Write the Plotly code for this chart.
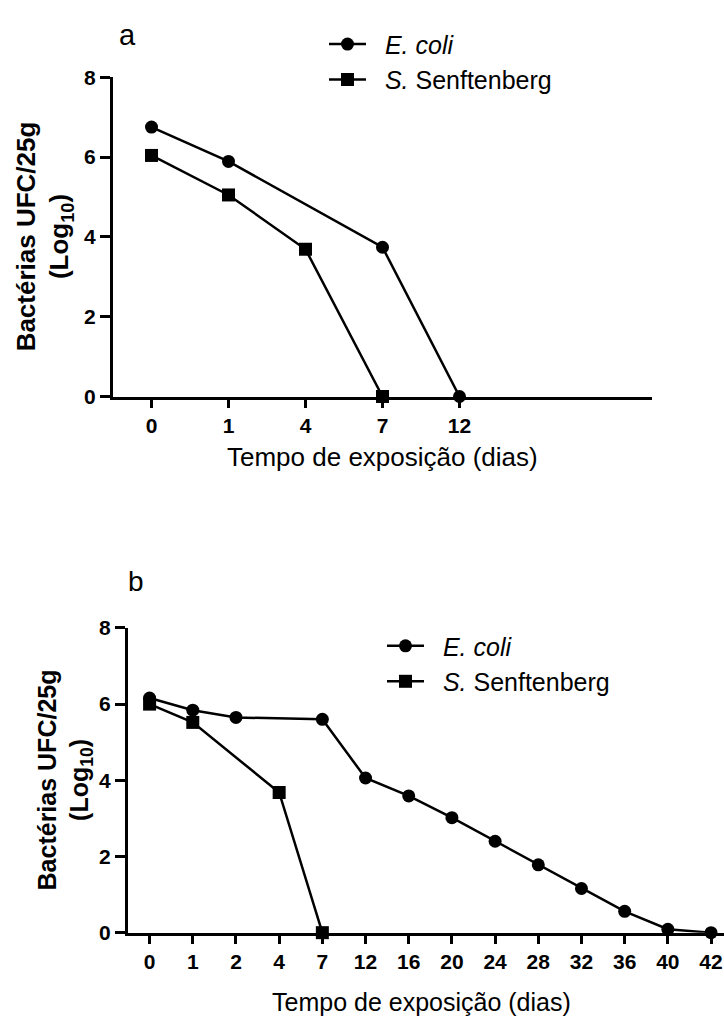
import plotly.graph_objects as go

W, H = 724, 1030
FONT = "Liberation Sans, Arial, sans-serif"

# ---------------- data: panel a ----------------
a_days = ["0", "1", "4", "7", "12"]
a_ecoli_days = ["0", "1", "7", "12"]
a_ecoli_log = [6.75, 5.89, 3.74, 0.0]
a_salm_days = ["0", "1", "4", "7"]
a_salm_log = [6.04, 5.05, 3.69, 0.0]

# ---------------- data: panel b ----------------
b_days = ["0", "1", "2", "4", "7", "12", "16", "20", "24", "28", "32", "36", "40", "42"]
b_ecoli_days = ["0", "1", "2", "7", "12", "16", "20", "24", "28", "32", "36", "40", "42"]
b_ecoli_log = [6.16, 5.84, 5.65, 5.60, 4.06, 3.59, 3.02, 2.40, 1.78, 1.16, 0.56, 0.09, 0.0]
b_salm_days = ["0", "1", "4", "7"]
b_salm_log = [6.00, 5.52, 3.68, 0.0]

y_ticks = [0, 2, 4, 6, 8]
NB = "\u00a0\u00a0"
series_names = [NB + "<i>E. coli</i>", NB + "<i>S.</i> Senftenberg"]
symbols = ["circle", "square"]


def px_x(v):
    return v / W


def px_y(v):
    return 1 - v / H


fig = go.Figure()

panels = [
    ("x", "y", "legend", [(a_ecoli_days, a_ecoli_log), (a_salm_days, a_salm_log)]),
    ("x2", "y2", "legend2", [(b_ecoli_days, b_ecoli_log), (b_salm_days, b_salm_log)]),
]
for xa, ya, leg, series in panels:
    for (xs, ys), name, sym in zip(series, series_names, symbols):
        fig.add_trace(go.Scatter(
            x=xs, y=ys, name=name, mode="lines+markers",
            xaxis=xa, yaxis=ya, legend=leg, cliponaxis=False,
            line=dict(color="black", width=2.5),
            marker=dict(symbol=sym, size=13, color="black"),
            hoverinfo="skip",
        ))

tickfont = dict(family=FONT, size=21, color="black", weight="bold")
common_x = dict(type="category", categoryorder="array", showline=True, linecolor="black",
                linewidth=3, ticks="outside", ticklen=8, tickwidth=2.5, tickcolor="black",
                tickfont=tickfont, showgrid=False, zeroline=False, fixedrange=True)
common_y = dict(range=[0, 8], tickvals=y_ticks, showline=True, linecolor="black",
                linewidth=3, ticks="outside", ticklen=10, tickwidth=2.5, tickcolor="black",
                tickfont=tickfont, showgrid=False, zeroline=False, fixedrange=True)

legend_font = dict(family=FONT, size=25, color="black")
fig.update_layout(
    width=W, height=H,
    margin=dict(l=0, r=0, t=0, b=0),
    paper_bgcolor="white", plot_bgcolor="white",
    xaxis=dict(common_x, domain=[px_x(113), px_x(652)], anchor="y",
               categoryarray=a_days, range=[-0.5, 6.5]),
    yaxis=dict(common_y, domain=[px_y(393.3), px_y(66.7)], anchor="x"),
    xaxis2=dict(common_x, domain=[px_x(128), 1.0], anchor="y2",
                categoryarray=b_days, range=[-0.5, 13.3]),
    yaxis2=dict(common_y, domain=[px_y(941.7), px_y(630)], anchor="x2"),
    legend=dict(x=px_x(324), y=px_y(9.5), xanchor="left", yanchor="top",
                font=legend_font, bgcolor="rgba(0,0,0,0)", itemwidth=37, tracegroupgap=0),
    legend2=dict(x=px_x(382), y=px_y(625), xanchor="left", yanchor="top",
                 font=legend_font, bgcolor="rgba(0,0,0,0)", itemwidth=37, tracegroupgap=0),
    showlegend=True,
)

ytitle = "<b>Bactérias UFC/25g<br>(Log<sub>10</sub>)</b>"
xtitle = "Tempo de exposição (dias)"
annotations = [
    dict(text="a", x=px_x(127), y=px_y(24), font=dict(family=FONT, size=29, color="black")),
    dict(text="b", x=px_x(135.5), y=px_y(583), font=dict(family=FONT, size=28, color="black")),
    dict(text=ytitle, x=px_x(44.5), y=px_y(230), textangle=-90,
         font=dict(family=FONT, size=26, color="black")),
    dict(text=ytitle, x=px_x(65), y=px_y(786), textangle=-90,
         font=dict(family=FONT, size=25, color="black")),
    dict(text=xtitle, x=px_x(382), y=px_y(455), font=dict(family=FONT, size=26, color="black")),
    dict(text=xtitle, x=px_x(421), y=px_y(1013), font=dict(family=FONT, size=25, color="black")),
]
for a in annotations:
    a.update(xref="paper", yref="paper", xanchor="center", yanchor="middle", showarrow=False)
fig.update_layout(annotations=annotations)

fig.write_html("out.html")
